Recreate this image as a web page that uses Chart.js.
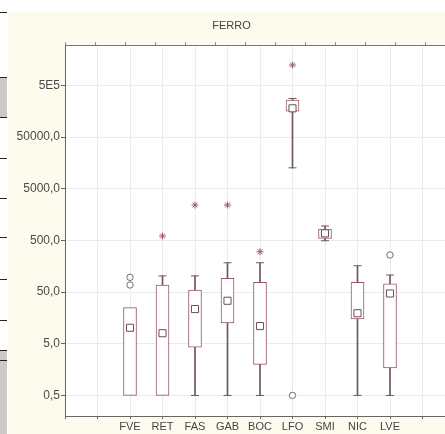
<!DOCTYPE html>
<html>
<head>
<meta charset="utf-8">
<script src="https://cdn.jsdelivr.net/npm/chart.js@4.4.1/dist/chart.umd.min.js"></script>
<style>
  html, body { margin:0; padding:0; background:#fff; overflow:hidden; width:445px; height:434px; }
  #wrap { position:absolute; left:8px; top:12px; width:460px; height:422px; background:#fcfbee; }
  .ln { position:absolute; left:0; width:7px; height:1px; background:#222; }
  .blk { position:absolute; left:0; width:7px; background:#c9c9c9; }
</style>
</head>
<body>
<div class="blk" style="top:77px;height:40px"></div>
<div class="blk" style="top:350px;height:84px"></div>
<div class="ln" style="top:12px"></div>
<div class="ln" style="top:77px"></div>
<div class="ln" style="top:117px"></div>
<div class="ln" style="top:158px"></div>
<div class="ln" style="top:198px"></div>
<div class="ln" style="top:237px"></div>
<div class="ln" style="top:279px"></div>
<div class="ln" style="top:320px"></div>
<div class="ln" style="top:350px"></div>
<div class="ln" style="top:360px"></div>
<div id="wrap"><canvas id="cnv" width="460" height="422"></canvas></div>
<script>
// FERRO - box plot per sito
var categories = ['FVE','RET','FAS','GAB','BOC','LFO','SMI','NIC','LVE'];
var whiskerMin = [0.5, 0.5, 0.5, 0.5, 0.5, 12700, 493, 0.5, 0.5];
var boxLow     = [0.5, 0.5, 4.3, 12.6, 2.0, 159000, 549, 15.1, 1.7];
var boxHigh    = [25, 68.6, 55, 92.5, 77, 260000, 830, 77, 72];
var whiskerMax = [25, 103, 103, 185, 185, 280000, 950, 162, 107];
var medians    = [10.2, 8, 23.5, 34, 11, 180000, 686, 19.5, 47];
var outlierCat = ['FVE','FVE','LFO','LVE'];
var outlierVal = [96.6, 68.6, 0.5, 261];
var extremeCat = ['RET','FAS','GAB','BOC','LFO'];
var extremeVal = [608, 2420, 2420, 302, 1240000];
var yTicks = [0.5, 5, 50, 500, 5000, 50000, 500000];

var pos = function(c) { return categories.indexOf(c) + 2; };
var boxColor = '#9a5664';
var whiskColor = '#6e5858';
var fontFam = '"Liberation Sans", Arial, sans-serif';

var boxes = [], whisk = [], caps = [], meds = [];
for (let i = 0; i < categories.length; i++) {
  let x = i + 2;
  boxes.push({x: x, y: [boxLow[i], boxHigh[i]]});
  meds.push({x: x, y: medians[i]});
  if (whiskerMax[i] > boxHigh[i]) {
    whisk.push({x: x, y: [boxHigh[i], whiskerMax[i]]});
    caps.push({x: x, y: whiskerMax[i]});
  }
  if (whiskerMin[i] < boxLow[i]) {
    whisk.push({x: x, y: [whiskerMin[i], boxLow[i]]});
    caps.push({x: x, y: whiskerMin[i]});
  }
}
var outl = outlierCat.map(function(c, i) { return {x: pos(c), y: outlierVal[i]}; });
var extr = extremeCat.map(function(c, i) { return {x: pos(c), y: extremeVal[i]}; });

var plotBg = {
  id: 'plotBg',
  beforeDraw: function(chart) {
    var a = chart.chartArea, c = chart.ctx;
    c.save();
    c.fillStyle = '#ffffff';
    c.fillRect(a.left, a.top, a.right - a.left, a.bottom - a.top);
    c.restore();
  }
};

const ctx = document.getElementById('cnv').getContext('2d');
const myChart = new Chart(ctx, {
  type: 'bar',
  data: {
    datasets: [
      { type: 'bar', data: whisk, backgroundColor: whiskColor, borderWidth: 0, barThickness: 1, grouped: false, order: 5 },
      { type: 'scatter', data: caps, pointStyle: 'line', radius: 4, borderColor: whiskColor, borderWidth: 1, order: 4 },
      { type: 'bar', data: boxes, backgroundColor: '#ffffff', borderColor: boxColor, borderWidth: 1, borderSkipped: false, barThickness: 13, grouped: false, order: 3 },
      { type: 'scatter', data: meds, pointStyle: 'rect', radius: 5, backgroundColor: '#ffffff', borderColor: '#6a4d52', borderWidth: 1, order: 1 },
      { type: 'scatter', data: outl, pointStyle: 'circle', radius: 3.2, backgroundColor: '#ffffff', borderColor: '#7a6a6a', borderWidth: 1, order: 1 },
      { type: 'scatter', data: extr, pointStyle: 'star', radius: 3.5, borderColor: '#a05a6a', borderWidth: 1, order: 1 }
    ]
  },
  options: {
    responsive: false,
    animation: false,
    layout: { padding: { left: 0, right: 13, top: 0, bottom: 0 } },
    plugins: {
      legend: { display: false },
      tooltip: { enabled: false },
      title: {
        display: true,
        text: 'FERRO',
        color: '#444',
        font: { family: fontFam, size: 11, weight: 'normal' },
        padding: { top: 7, bottom: 13 }
      }
    },
    scales: {
      x: {
        type: 'linear',
        min: 0, max: 12,
        offset: false,
        afterFit: function(s) { s.height = 18; },
        ticks: {
          stepSize: 1,
          autoSkip: false,
          maxRotation: 0,
          padding: 1,
          color: '#444',
          font: { family: fontFam, size: 11 },
          callback: function(v) { return categories[v - 2] || ''; }
        },
        grid: { color: '#ebebeb', tickColor: '#666', tickLength: 3, offset: false },
        border: { color: '#666' }
      },
      x2: {
        type: 'linear',
        position: 'top',
        min: 0, max: 12,
        afterFit: function(s) { s.height = 0; },
        ticks: { display: false, stepSize: 1 },
        grid: { drawOnChartArea: false, tickColor: '#888', tickLength: 3 },
        border: { color: '#777' }
      },
      y: {
        type: 'logarithmic',
        min: 0.2, max: 3000000,
        afterFit: function(s) { s.width = 57; },
        afterBuildTicks: function(axis) {
          axis.ticks = yTicks.map(function(v) { return {value: v}; });
        },
        ticks: {
          padding: 1,
          color: '#4a4a4a',
          font: { family: fontFam, size: 12 },
          callback: function(v) {
            if (v >= 100000) return '5E5';
            return v.toFixed(1).replace('.', ',');
          }
        },
        grid: { color: '#ebebeb', tickColor: '#666', tickLength: 4 },
        border: { color: '#666' }
      }
    }
  },
  plugins: [plotBg]
});
</script>
</body>
</html>
